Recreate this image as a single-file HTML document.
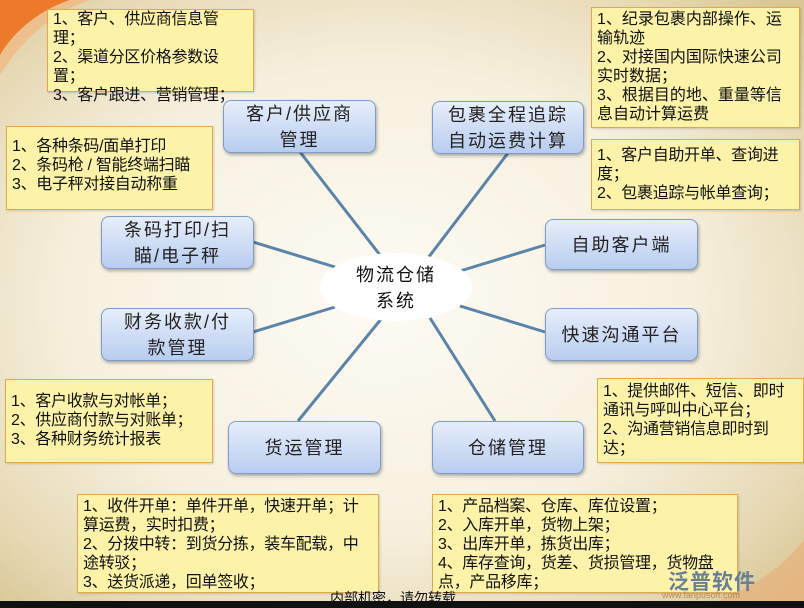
<!DOCTYPE html>
<html><head><meta charset="utf-8"><style>
body{margin:0;width:804px;height:608px;overflow:hidden;position:relative;font-family:"Liberation Sans","Noto Sans CJK SC",sans-serif;
background:radial-gradient(ellipse 560px 420px at 380px 300px,#fdfbf4 0%,#f6f0de 55%,#e6d9b4 85%,#d9c795 100%);}
.y{position:absolute;background:#fdf3a8;border:1px solid #e3a84a;font-size:16px;line-height:19px;color:#111;padding:1px 5px;box-sizing:border-box;box-shadow:1px 1px 2px rgba(0,0,0,.15);letter-spacing:-0.3px}
.b{position:absolute;background:linear-gradient(#e6eefa,#b8cdef);border:1px solid #7d9cc8;border-radius:8px;box-shadow:1px 2px 3px rgba(0,0,0,.3);font-size:18px;letter-spacing:2px;line-height:26px;color:#222;text-align:center;display:flex;align-items:center;justify-content:center;box-sizing:border-box}
</style></head><body>
<svg width="804" height="608" style="position:absolute;left:0;top:0">
<path d="M0,0 L70,0 C40,10 15,30 0,55 Z" fill="#ec7a2a"/>
<path d="M0,55 C15,30 40,10 70,0 L90,0 C55,12 25,35 0,75 Z" fill="#f3b27a" opacity=".6"/>
<g stroke="#5a84aa" stroke-width="3">
<line x1="300" y1="152" x2="380" y2="255"/>
<line x1="508" y1="153" x2="428" y2="258"/>
<line x1="253" y1="242" x2="335" y2="267"/>
<line x1="545" y1="245" x2="460" y2="271"/>
<line x1="253" y1="332" x2="335" y2="307"/>
<line x1="545" y1="332" x2="460" y2="306"/>
<line x1="298" y1="421" x2="382" y2="318"/>
<line x1="495" y1="421" x2="430" y2="318"/>
</g>
<ellipse cx="396" cy="287" rx="76" ry="34" fill="#fff"/>
<text x="396" y="281" font-size="18" text-anchor="middle" fill="#111" font-family="Liberation Sans,Noto Sans CJK SC,sans-serif" letter-spacing="2">物流仓储</text>
<text x="396" y="307" font-size="18" text-anchor="middle" fill="#111" font-family="Liberation Sans,Noto Sans CJK SC,sans-serif" letter-spacing="2">系统</text>
<path d="M700,608 C750,590 780,570 804,540 L804,608 Z" fill="#e8b07a" opacity=".7"/>
</svg>
<div class="y" style="left:47px;top:9px;width:207px;height:83px;padding-top:0">1、客户、供应商信息管理；<br>2、渠道分区价格参数设置；<br>3、客户跟进、营销管理；</div>
<div class="y" style="left:6px;top:126px;width:207px;height:84px;padding-top:10px">1、各种条码/面单打印<br>2、条码枪 / 智能终端扫瞄<br>3、电子秤对接自动称重</div>
<div class="y" style="left:591px;top:7px;width:209px;height:121px;padding-top:2px;letter-spacing:0">1、纪录包裹内部操作、运输轨迹<br>2、对接国内国际快速公司实时数据；<br>3、根据目的地、重量等信息自动计算运费</div>
<div class="y" style="left:591px;top:139px;width:209px;height:71px;padding-top:6px">1、客户自助开单、查询进度；<br>2、包裹追踪与帐单查询；</div>
<div class="y" style="left:5px;top:379px;width:208px;height:84px;padding-top:12px">1、客户收款与对帐单；<br>2、供应商付款与对账单；<br>3、各种财务统计报表</div>
<div class="y" style="left:597px;top:378px;width:207px;height:85px;padding-top:3px">1、提供邮件、短信、即时通讯与呼叫中心平台；<br>2、沟通营销信息即时到达；</div>
<div class="y" style="left:77px;top:494px;width:302px;height:99px;padding-top:2px">1、收件开单：单件开单，快速开单；计算运费，实时扣费；<br>2、分拨中转：到货分拣，装车配载，中途转驳；<br>3、送货派递，回单签收；</div>
<div class="y" style="left:432px;top:494px;width:306px;height:99px;padding-top:2px">1、产品档案、仓库、库位设置；<br>2、入库开单，货物上架；<br>3、出库开单，拣货出库；<br>4、库存查询，货差、货损管理，货物盘点，产品移库；</div>
<div class="b" style="left:223px;top:100px;width:153px;height:53px">客户/供应商<br>管理</div>
<div class="b" style="left:432px;top:101px;width:152px;height:53px">包裹全程追踪<br>自动运费计算</div>
<div class="b" style="left:101px;top:216px;width:153px;height:53px">条码打印/扫<br>瞄/电子秤</div>
<div class="b" style="left:545px;top:219px;width:153px;height:51px">自助客户端</div>
<div class="b" style="left:101px;top:308px;width:153px;height:53px">财务收款/付<br>款管理</div>
<div class="b" style="left:545px;top:308px;width:153px;height:53px">快速沟通平台</div>
<div class="b" style="left:228px;top:421px;width:153px;height:53px">货运管理</div>
<div class="b" style="left:432px;top:421px;width:152px;height:53px">仓储管理</div>
<div style="position:absolute;left:330px;top:588px;font-size:14px;color:#111">内部机密，请勿转载</div>
<div style="position:absolute;left:668px;top:566px;font-size:21px;color:#6a7f94;font-weight:bold;letter-spacing:1px">泛普软件</div>
<div style="position:absolute;left:662px;top:590px;font-size:9px;color:#b88a5a">www.fanpusoft.com</div>
<div style="position:absolute;left:0;top:601px;width:804px;height:7px;background:#111"></div>
</body></html>
